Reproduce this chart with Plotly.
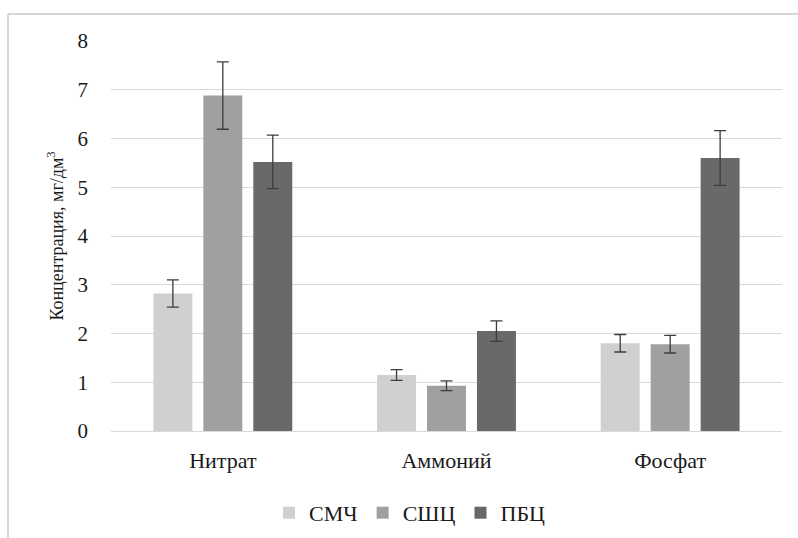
import plotly.graph_objects as go

categories = ["Нитрат", "Аммоний", "Фосфат"]
series_names = ["СМЧ", "СШЦ", "ПБЦ"]
smch = [2.82, 1.15, 1.80]
smch_err = [0.28, 0.11, 0.18]
sshc = [6.88, 0.93, 1.78]
sshc_err = [0.69, 0.10, 0.18]
pbc = [5.52, 2.05, 5.60]
pbc_err = [0.55, 0.21, 0.56]
y_ticks = [0, 1, 2, 3, 4, 5, 6, 7, 8]

values = [smch, sshc, pbc]
errors = [smch_err, sshc_err, pbc_err]
colors = ["#d0d0d0", "#a0a0a0", "#696969"]

fig = go.Figure()
for name, v, e, c in zip(series_names, values, errors, colors):
    fig.add_trace(go.Bar(
        x=categories, y=v, name=name,
        marker=dict(color=c, line=dict(width=0)),
        error_y=dict(type="data", array=e, visible=True,
                     color="#3c3c3c", thickness=1.3, width=6),
    ))

font_family = "Liberation Serif"
fig.update_layout(
    width=798, height=538,
    margin=dict(l=111, r=16, t=41, b=107, autoexpand=False),
    paper_bgcolor="white", plot_bgcolor="white",
    barmode="group", bargap=0.33, bargroupgap=0.22,
    font=dict(family=font_family, size=21, color="#1a1a1a"),
    showlegend=True,
    legend=dict(orientation="h", x=0.445, xanchor="center", y=-0.21, yanchor="middle",
                font=dict(family=font_family, size=22), itemwidth=30, traceorder="normal"),
    xaxis=dict(showgrid=False, showline=False, ticks="", ticklabelstandoff=14,
               automargin=False, tickfont=dict(family=font_family, size=22)),
    yaxis=dict(range=[0, 8], tickvals=y_ticks, showgrid=True, gridcolor="#d9d9d9",
               gridwidth=1, zeroline=True, zerolinecolor="#d9d9d9", zerolinewidth=1,
               showline=False, ticks="", ticklabelstandoff=22, automargin=False,
               tickfont=dict(family=font_family, size=21),
               title=dict(text="Концентрация, мг/дм<sup>3</sup>",
                          font=dict(family=font_family, size=18), standoff=9)),
    shapes=[
        dict(type="line", xref="paper", yref="paper", x0=-0.1535, x1=1.05,
             y0=1.0692, y1=1.0692, line=dict(color="#d6d6d6", width=2)),
        dict(type="line", xref="paper", yref="paper", x0=-0.1535, x1=-0.1535,
             y0=1.0692, y1=-0.3, line=dict(color="#d6d6d6", width=2)),
    ],
)

fig.write_html("out.html")
